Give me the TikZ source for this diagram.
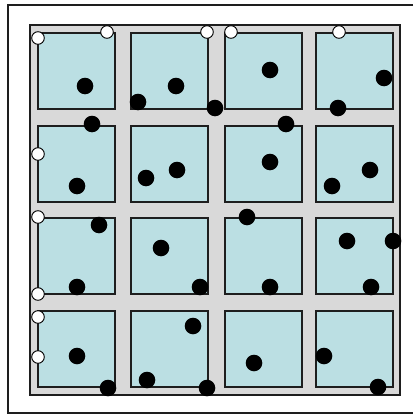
\documentclass[tikz,border=0pt]{standalone}
\definecolor{cellblue}{RGB}{187,223,227}
\definecolor{bandgray}{RGB}{217,217,217}
\definecolor{ink}{RGB}{30,30,30}
\tikzset{
  cell/.style={fill=cellblue,draw=ink,line width=1.5pt},
  blackdot/.style={fill=black,draw=none},
  whitedot/.style={fill=white,draw=black,line width=0.9pt},
}
\begin{document}
\begin{tikzpicture}[x=1pt,y=-1pt]
\useasboundingbox (0,0) rectangle (413,415);
\fill[white] (0,0) rectangle (413,415);
% outer frame
\draw[ink,line width=1.6pt] (413,5) -- (8,5) -- (8,413) -- (413,413);
% gray band area
\draw[fill=bandgray,draw=ink,line width=1.3pt] (30,25) rectangle (400,395);
% cells
\foreach \x in {38,131,225,316}{
  \foreach \y in {33,126,218,311}{
    \draw[cell] (\x,\y) rectangle ++(77,76);
  }
}
% black dots
\foreach \p in {(85,86),(176,86),(138,102),(215,108),(270,70),(384,78),(338,108),
  (92,124),(77,186),(146,178),(177,170),(286,124),(270,162),(370,170),(332,186),
  (99,225),(161,248),(77,287),(200,287),(247,217),(270,287),(347,241),(393,241),(371,287),
  (193,326),(77,356),(147,380),(108,388),(207,388),(254,363),(324,356),(378,387)}{
  \fill[blackdot] \p circle (8.3);
}
% white dots
\foreach \p in {(38,38),(107,32),(207,32),(231,32),(339,32),(38,154),(38,217),(38,294),(38,317),(38,357)}{
  \draw[whitedot] \p circle (6.3);
}
\end{tikzpicture}
\end{document}
